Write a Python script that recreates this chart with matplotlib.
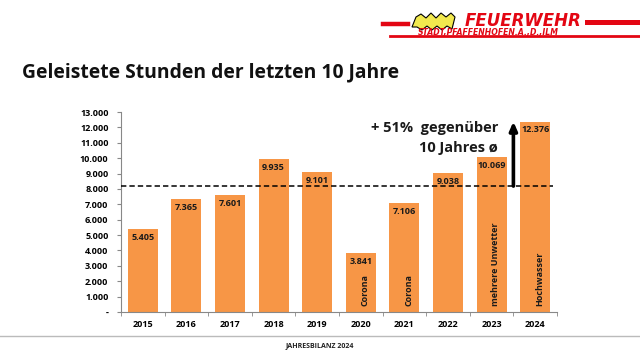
import numpy as np
import matplotlib
matplotlib.use('Agg')
import matplotlib.pyplot as plt
from matplotlib.patches import Polygon

#---------------------- DATA
years   = ['2015','2016','2017','2018','2019','2020','2021','2022','2023','2024']
stunden = [5405, 7365, 7601, 9935, 9101, 3841, 7106, 9038, 10069, 12376]
notes   = ['', '', '', '', '', 'Corona', 'Corona', '', 'mehrere Unwetter', 'Hochwasser']
yticks  = [0,1000,2000,3000,4000,5000,6000,7000,8000,9000,10000,11000,12000,13000]
ylabels = ['-'] + ['{:,}'.format(v).replace(',', '.') for v in yticks[1:]]

title   = 'Geleistete Stunden der letzten 10 Jahre'
note1   = '+ 51%  gegenüber'
note2   = '10 Jahres ø'
footer  = 'JAHRESBILANZ 2024'

avg = np.mean(stunden)

#---------------------- PLOTTING
plt.rcParams['font.family'] = ['Open Sans', 'DejaVu Sans']
orange = '#F79646'
red    = '#E30613'
dark   = '#1a1a1a'

fig = plt.figure(figsize=(6.4,3.6), dpi=100)
fig.patch.set_facecolor('white')
ax = fig.add_axes([121/640., 48/360., 436/640., 200/360.])

x = np.arange(len(years))
ax.bar(x, stunden, width=0.69, color=orange, zorder=2)

for i in range(len(years)):
    ax.text(x[i], stunden[i]-250, '{:,}'.format(stunden[i]).replace(',', '.'),
            ha='center', va='top', fontsize=6.5, fontweight='bold', color=dark, zorder=3)
    if notes[i]:
        ax.text(x[i]+0.1, 400, notes[i], rotation=90, ha='center', va='bottom',
                fontsize=6.5, fontweight='bold', color=dark, zorder=3)

# 10 year average
ax.axhline(avg, xmin=0, xmax=0.99, color='k', lw=1.1, ls=(0,(3.5,2)), zorder=4)

# arrow + note
ax.annotate('', xy=(8.5, stunden[-1]), xytext=(8.5, avg),
            arrowprops=dict(arrowstyle='-|>,head_length=0.5,head_width=0.22', lw=2.6, color='k',
                            shrinkA=0, shrinkB=0), zorder=5)
ax.text(8.15, 11960, note1, ha='right', va='center', fontsize=10.5, fontweight='bold', color=dark)
ax.text(8.15, 10660, note2, ha='right', va='center', fontsize=10.5, fontweight='bold', color=dark)

ax.set_xlim(-0.5, 9.5)
ax.set_ylim(0, 13000)
ax.set_xticks(x)
ax.set_xticklabels(years, fontsize=6.5, fontweight='bold')
ax.set_xticks(np.arange(-0.5, 10, 1), minor=True)
ax.tick_params(axis='x', which='major', length=0, pad=6)
ax.tick_params(axis='x', which='minor', length=3, color='#888888', direction='out')
ax.set_yticks(yticks)
ax.set_yticklabels(ylabels, fontsize=6.5, fontweight='bold')
ax.tick_params(axis='y', length=3, color='#888888', pad=6)

ax.spines['top'].set_visible(False)
ax.spines['right'].set_visible(False)
ax.spines['left'].set_color('#888888')
ax.spines['bottom'].set_color('#888888')

##-----------header / footer
fig.text(22/640., 1-72/360., title, ha='left', va='center', fontsize=13.9, fontweight='bold', color='#111111')

fig.add_artist(plt.Line2D([383/640., 408/640.], [1-23.5/360., 1-23.5/360.], color=red, lw=3.2))
fig.add_artist(plt.Line2D([587/640., 1.0], [1-22/360., 1-22/360.], color=red, lw=3.6))
fig.add_artist(plt.Line2D([390/640., 1.0], [1-36/360., 1-36/360.], color=red, lw=2.0))

logo = [(412,27),(416,17),(421,14),(426,18),(431,13),(436,18),(441,13),(446,17),(451,13),(455,17),
        (452,29),(447,26),(442,30),(437,26),(432,30),(427,26),(422,30),(417,27)]
fig.add_artist(Polygon([(px/640., 1-py/360.) for px, py in logo], closed=True,
                       facecolor='#F2E94E', edgecolor='k', lw=0.8, transform=fig.transFigure))

fig.text(523/640., 1-20.5/360., 'FEUERWEHR', ha='center', va='center', fontsize=12,
         fontweight='heavy', style='italic', color=red, family='DejaVu Sans')
fig.text(488/640., 1-35/360., 'STADT,PFAFFENHOFEN.A.,D.,ILM', ha='center', va='baseline',
         fontsize=5.6, fontweight='bold', style='italic', color=red, family='DejaVu Sans')

fig.add_artist(plt.Line2D([0, 1], [1-336/360., 1-336/360.], color='#bbbbbb', lw=1.0))
fig.text(0.5, 1-346/360., footer, ha='center', va='center', fontsize=5, fontweight='bold', color='#222222')

plt.savefig('out.png', dpi=100)
